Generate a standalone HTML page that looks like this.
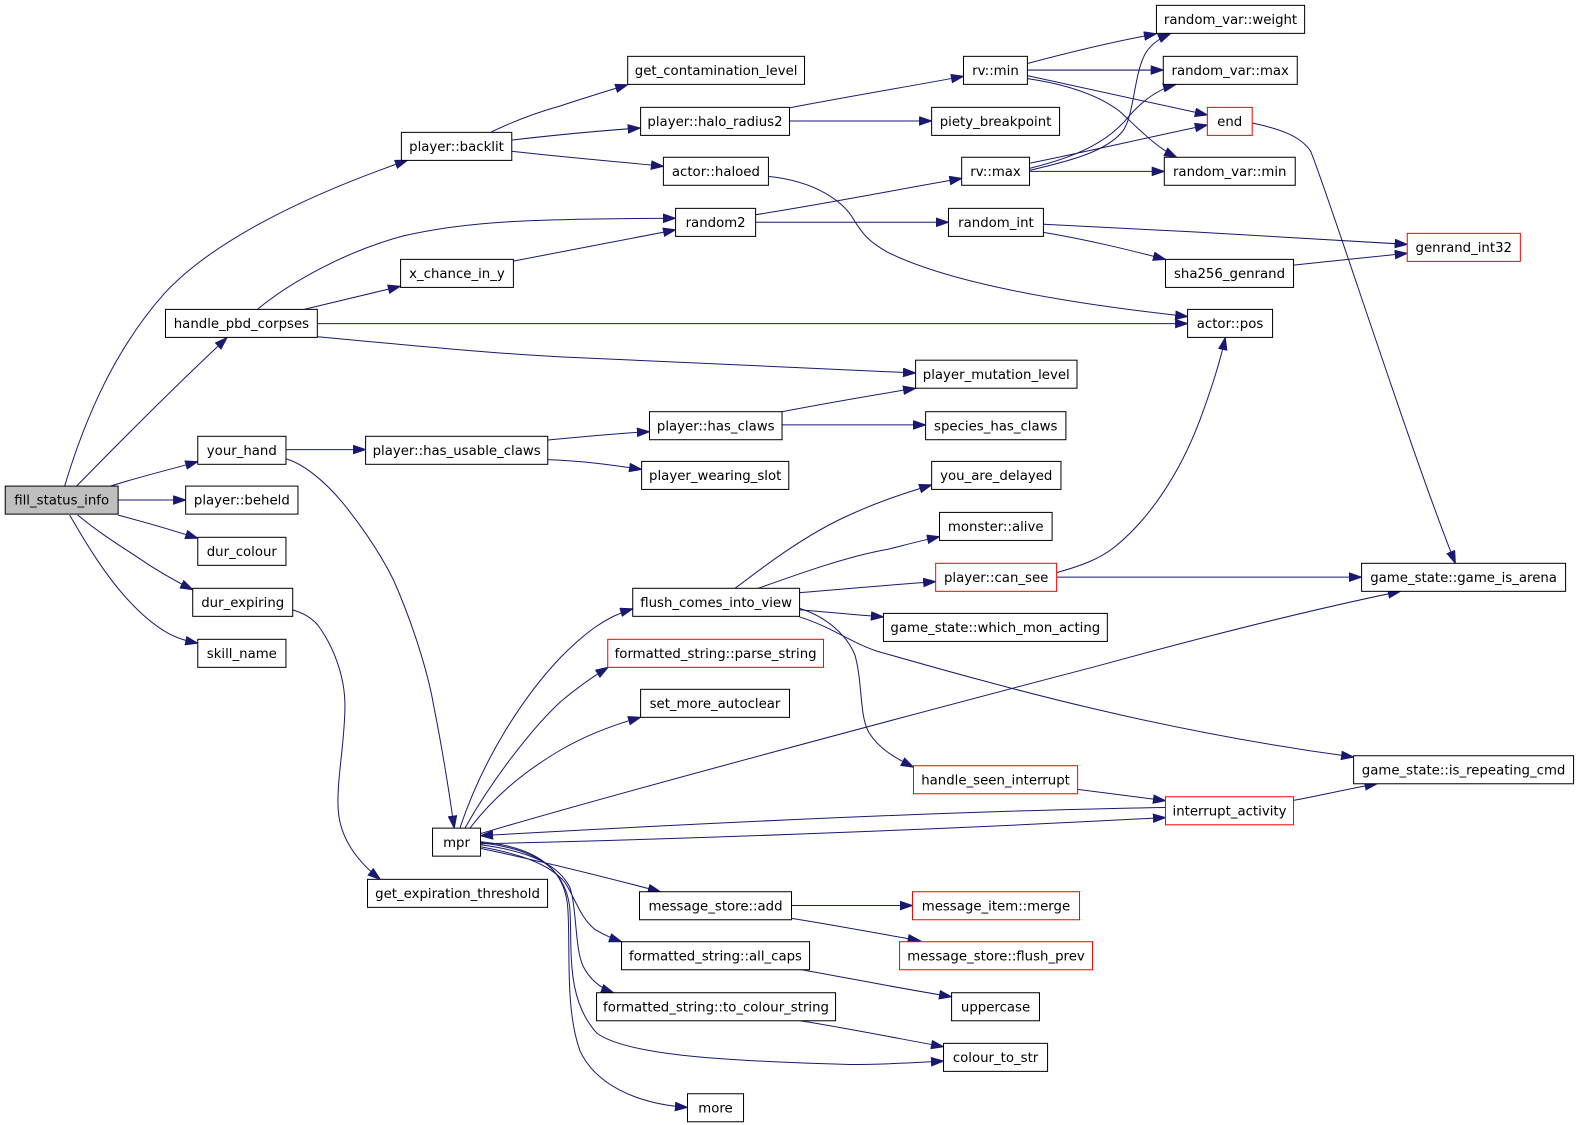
<!DOCTYPE html>
<html>
<head>
<meta charset="utf-8">
<style>
html,body{margin:0;padding:0;background:#fff;}
svg{display:block;}
text{font-family:"DejaVu Sans","Liberation Sans",sans-serif;font-size:13.2px;fill:#000;text-anchor:middle;}
.n{fill:#fff;stroke:#000;stroke-width:1;}
.r{fill:#fff;stroke:#ff0000;stroke-width:1;}
.g{fill:#bfbfbf;stroke:#000;stroke-width:1;}
.e{fill:none;stroke:#191970;stroke-width:1;marker-end:url(#a);}
</style>
</head>
<body>
<svg width="1579" height="1125" viewBox="0 0 1566 1116" xmlns="http://www.w3.org/2000/svg">
<defs>
<marker id="a" markerWidth="14" markerHeight="11" refX="12.5" refY="4.6" orient="auto" markerUnits="userSpaceOnUse">
<path d="M0.5,0.5 L12.5,4.6 L0.5,8.7 z" fill="#191970" stroke="#191970" stroke-width="1"/>
</marker>
</defs>
<rect width="1566" height="1116" fill="#fff"/>

<!-- edges -->
<g>
<path class="e" d="M64,482 C85,412 115,345 163,291 C210,240 300,195 404,159"/>
<path class="e" d="M76,482 C120,437 180,377 225,335"/>
<path class="e" d="M110,482 C135,474 160,468 196,458"/>
<path class="e" d="M117,496 L184,496"/>
<path class="e" d="M117,511 C140,517 165,524 196,534"/>
<path class="e" d="M77,511 C100,530 120,542 135,552 C148,561 165,572 191,585"/>
<path class="e" d="M69,511 C80,530 100,565 124,592 C140,610 155,622 168,629 C178,634 186,636 196,638"/>

<path class="e" d="M487,131 C510,120 530,112 556,105 C580,97 600,91 622.5,84"/>
<path class="e" d="M507,139 C550,134 590,130 635,127"/>
<path class="e" d="M507,150 C560,156 610,160 658,165"/>

<path class="e" d="M255,307 C285,282 340,250 400,234 C460,220 520,217 670,216.5"/>
<path class="e" d="M301,307 C330,300 360,293 397,284"/>
<path class="e" d="M315,321 L1178,321"/>
<path class="e" d="M315,334 C400,342 480,350 556,354 C680,360 800,365 908,370"/>

<path class="e" d="M509,259 C560,249 620,238 670,228"/>

<path class="e" d="M783,107 C840,96 900,86 955.6,75.7"/>
<path class="e" d="M783,120 L924,120"/>

<path class="e" d="M762,175 C810,180 835,200 845,215 C855,232 862,240 880,250 C940,280 1050,300 1178,314"/>

<path class="e" d="M749.4,213 C820,202 890,188 954,177"/>
<path class="e" d="M749.4,220.5 L940.7,220.5"/>

<path class="e" d="M1019,63 C1060,52 1100,42 1147,33.5"/>
<path class="e" d="M1019,69.5 L1153.8,69.5"/>
<path class="e" d="M1019,75 C1080,88 1140,102 1197.5,114"/>
<path class="e" d="M1019,78 C1060,84 1090,95 1110,110 C1130,128 1145,145 1167,156"/>

<path class="e" d="M1021,169 C1060,160 1100,150 1115,128 C1125,110 1125,75 1135,55 C1140,45 1150,38 1161,33.3"/>
<path class="e" d="M1021,167 C1070,155 1100,140 1120,115 C1135,98 1150,88 1166,84"/>
<path class="e" d="M1021,162 C1080,150 1140,136 1197.5,124"/>
<path class="e" d="M1021,170 L1154.8,170"/>

<path class="e" d="M1242,122 C1270,128 1290,135 1300,150 C1320,200 1400,450 1443.5,558.8"/>

<path class="e" d="M1035,222.5 C1150,228 1300,236 1395.8,242.4"/>
<path class="e" d="M1035,230.5 C1080,238 1120,248 1156,257.3"/>
<path class="e" d="M1283,263 C1320,259 1360,255 1395.8,251.3"/>

<path class="e" d="M1048,568 C1070,562 1090,555 1105,543 C1140,515 1170,470 1190,417 C1200,390 1210,360 1215.3,334.8"/>
<path class="e" d="M1048,572.5 L1350.5,572.5"/>

<path class="e" d="M729,583.6 C760,560 800,530 840,512 C870,498 895,490 924,481"/>
<path class="e" d="M752,583.6 C790,570 840,552 880,545 C900,540 915,536 931.8,532.4"/>
<path class="e" d="M793,588 C840,584 885,580 928,577"/>
<path class="e" d="M793,605 C820,607 850,610 876.2,612"/>
<path class="e" d="M793,612 C825,622 845,638 870,646 C1000,683 1150,725 1342.6,751"/>
<path class="e" d="M793,603.5 C820,612 840,630 848,650 C856,680 852,710 862,727 C872,743 888,752 906,761"/>

<path class="e" d="M456,821.5 C480,750 520,690 556,652 C580,628 600,612 627.5,604"/>
<path class="e" d="M461,821.5 C490,770 530,720 556,696 C575,680 590,670 603,662"/>
<path class="e" d="M466,821.5 C490,790 520,765 556,744 C580,730 605,720 635.3,711.6"/>
<path class="e" d="M476.5,827 C600,790 900,710 1091,660 C1200,630 1300,605 1389,586.6"/>

<path class="e" d="M1156,801 Q900,805 476.5,829"/>
<path class="e" d="M476.5,837 C700,832 950,822 1156,811"/>
<path class="e" d="M1283,794 C1310,789 1340,782 1366,777.5"/>
<path class="e" d="M1068.8,783 C1100,787 1130,791 1156,794.3"/>

<path class="e" d="M476.5,841.6 C540,855 600,870 655,884.6"/>
<path class="e" d="M476.5,840 C520,848 545,858 560,875 C570,890 575,910 590,922 C600,928 607,931 616.4,934.2"/>
<path class="e" d="M476.5,838 C530,845 555,860 565,880 C572,900 570,940 578,958 C585,972 595,980 608.4,984.8"/>
<path class="e" d="M476.5,836 C530,842 560,860 565,900 C568,940 560,990 592,1025 C620,1045 700,1052 843,1056 C880,1056 910,1054 935.8,1052.6"/>
<path class="e" d="M476.5,835 C530,840 560,860 563,900 C566,940 560,1000 575,1042 C590,1075 630,1095 681.8,1098.5"/>

<path class="e" d="M283,455 C300,460 320,475 340,499 C365,530 380,555 390,575 C410,620 425,670 430,700 C440,750 446,790 450.4,821.5"/>
<path class="e" d="M283,446 L362.5,446"/>

<path class="e" d="M290,605 C300,608 308,612 315,620 C330,640 342,670 342,700 C342,740 332,780 336,810 C340,835 355,855 377,872.3"/>

<path class="e" d="M543.2,436.5 C580,433 610,430 644.1,428.2"/>
<path class="e" d="M543.2,456 C575,457 605,461 636.3,465.6"/>

<path class="e" d="M775.2,408.4 C820,400 865,392 908.1,385.2"/>
<path class="e" d="M775.6,421.5 L918,421.5"/>

<path class="e" d="M785,898.3 L905,898.3"/>
<path class="e" d="M785,911 C830,918 870,926 912.7,933.2"/>
<path class="e" d="M793,961.6 C840,970 890,980 943.8,988.8"/>
<path class="e" d="M793.6,1012.6 C840,1020 890,1030 935.8,1038.4"/>
</g>

<!-- nodes -->
<g>
<rect class="g" x="5" y="482.2" width="112" height="27.8"/><text x="61" y="500.7">fill_status_info</text>
<rect class="n" x="398" y="131.3" width="109.5" height="27.8"/><text x="452.7" y="149.8">player::backlit</text>
<rect class="n" x="164" y="306.9" width="150.6" height="27.8"/><text x="239.3" y="325.4">handle_pbd_corpses</text>
<rect class="n" x="196" y="432.8" width="87.5" height="27.8"/><text x="239.7" y="451.3">your_hand</text>
<rect class="n" x="184" y="482.2" width="111.4" height="27.8"/><text x="239.7" y="500.7">player::beheld</text>
<rect class="n" x="196" y="533" width="87.5" height="27.8"/><text x="239.7" y="551.5">dur_colour</text>
<rect class="n" x="191" y="583.6" width="99.2" height="27.8"/><text x="240.6" y="602.1">dur_expiring</text>
<rect class="n" x="196" y="634.2" width="87.5" height="27.8"/><text x="239.7" y="652.7">skill_name</text>
<rect class="n" x="622.5" y="55.9" width="175.4" height="27.8"/><text x="710.2" y="74.4">get_contamination_level</text>
<rect class="n" x="635.3" y="106.5" width="147.7" height="27.8"/><text x="709.1" y="125">player::halo_radius2</text>
<rect class="n" x="657.9" y="156" width="104.2" height="27.8"/><text x="710" y="174.5">actor::haloed</text>
<rect class="n" x="670" y="206.7" width="79.4" height="27.8"/><text x="709.7" y="225.2">random2</text>
<rect class="n" x="397.2" y="257.3" width="111.9" height="27.8"/><text x="453.1" y="275.8">x_chance_in_y</text>
<rect class="n" x="955.6" y="55.9" width="63.4" height="27.8"/><text x="987.3" y="74.4">rv::min</text>
<rect class="n" x="924" y="106.5" width="126.9" height="27.8"/><text x="987.4" y="125">piety_breakpoint</text>
<rect class="n" x="953.8" y="156" width="67.3" height="27.8"/><text x="987.4" y="174.5">rv::max</text>
<rect class="n" x="940.7" y="206.7" width="94.2" height="27.8"/><text x="987.8" y="225.2">random_int</text>
<rect class="n" x="1147" y="5.3" width="147" height="27.8"/><text x="1220.5" y="23.8">random_var::weight</text>
<rect class="n" x="1153.8" y="55.9" width="132.9" height="27.8"/><text x="1220.2" y="74.4">random_var::max</text>
<rect class="r" x="1197.5" y="106.5" width="44.5" height="27.8"/><text x="1219.7" y="125">end</text>
<rect class="n" x="1154.8" y="156" width="129.9" height="27.8"/><text x="1219.7" y="174.5">random_var::min</text>
<rect class="r" x="1395.8" y="231.5" width="112.2" height="27.8"/><text x="1451.9" y="250">genrand_int32</text>
<rect class="n" x="1156" y="257.3" width="127" height="27.8"/><text x="1219.5" y="275.8">sha256_genrand</text>
<rect class="n" x="1177.9" y="306.9" width="84.3" height="27.8"/><text x="1220" y="325.4">actor::pos</text>
<rect class="n" x="908.1" y="357.3" width="160.1" height="27.8"/><text x="988.1" y="375.8">player_mutation_level</text>
<rect class="n" x="362.5" y="432.8" width="180.7" height="27.8"/><text x="452.8" y="451.3">player::has_usable_claws</text>
<rect class="n" x="644.1" y="408.4" width="131.5" height="27.8"/><text x="709.8" y="426.9">player::has_claws</text>
<rect class="n" x="918" y="408.4" width="139.2" height="27.8"/><text x="987.6" y="426.9">species_has_claws</text>
<rect class="n" x="636.3" y="457.7" width="146" height="27.8"/><text x="709.3" y="476.2">player_wearing_slot</text>
<rect class="n" x="924" y="457.7" width="128.3" height="27.8"/><text x="988.1" y="476.2">you_are_delayed</text>
<rect class="n" x="931.8" y="508.3" width="111.7" height="27.8"/><text x="987.6" y="526.8">monster::alive</text>
<rect class="r" x="928" y="558.8" width="120" height="27.8"/><text x="988" y="577.3">player::can_see</text>
<rect class="n" x="1350.5" y="558.8" width="202.4" height="27.8"/><text x="1451.7" y="577.3">game_state::game_is_arena</text>
<rect class="n" x="627.5" y="583.6" width="165.5" height="27.8"/><text x="710.2" y="602.1">flush_comes_into_view</text>
<rect class="n" x="876.2" y="608.5" width="222.1" height="27.8"/><text x="987.2" y="627">game_state::which_mon_acting</text>
<rect class="r" x="602.7" y="634.2" width="214" height="27.8"/><text x="709.7" y="652.7">formatted_string::parse_string</text>
<rect class="n" x="635.3" y="683.8" width="147.7" height="27.8"/><text x="709.1" y="702.3">set_more_autoclear</text>
<rect class="r" x="906" y="759.6" width="162.8" height="27.8"/><text x="987.4" y="778.1">handle_seen_interrupt</text>
<rect class="n" x="1342.6" y="749.7" width="218.2" height="27.8"/><text x="1451.7" y="768.2">game_state::is_repeating_cmd</text>
<rect class="r" x="1156" y="790.4" width="127" height="27.8"/><text x="1219.5" y="808.9">interrupt_activity</text>
<rect class="n" x="428.9" y="821.5" width="47.6" height="27.8"/><text x="452.7" y="840">mpr</text>
<rect class="n" x="364.4" y="872.3" width="178.6" height="27.8"/><text x="453.7" y="890.8">get_expiration_threshold</text>
<rect class="n" x="634.2" y="884.6" width="150.8" height="27.8"/><text x="709.6" y="903.1">message_store::add</text>
<rect class="r" x="905" y="884.6" width="165.7" height="27.8"/><text x="987.8" y="903.1">message_item::merge</text>
<rect class="n" x="616.4" y="934.2" width="186.5" height="27.8"/><text x="709.6" y="952.7">formatted_string::all_caps</text>
<rect class="r" x="892.2" y="934.2" width="191.4" height="27.8"/><text x="987.9" y="952.7">message_store::flush_prev</text>
<rect class="n" x="943.8" y="984.8" width="87.2" height="27.8"/><text x="987.4" y="1003.3">uppercase</text>
<rect class="n" x="591.6" y="984.8" width="237.1" height="27.8"/><text x="710.1" y="1003.3">formatted_string::to_colour_string</text>
<rect class="n" x="935.8" y="1035" width="103.2" height="27.8"/><text x="987.4" y="1053.5">colour_to_str</text>
<rect class="n" x="681.8" y="1085" width="55.6" height="27.8"/><text x="709.6" y="1103.5">more</text>
</g>
</svg>
</body>
</html>
